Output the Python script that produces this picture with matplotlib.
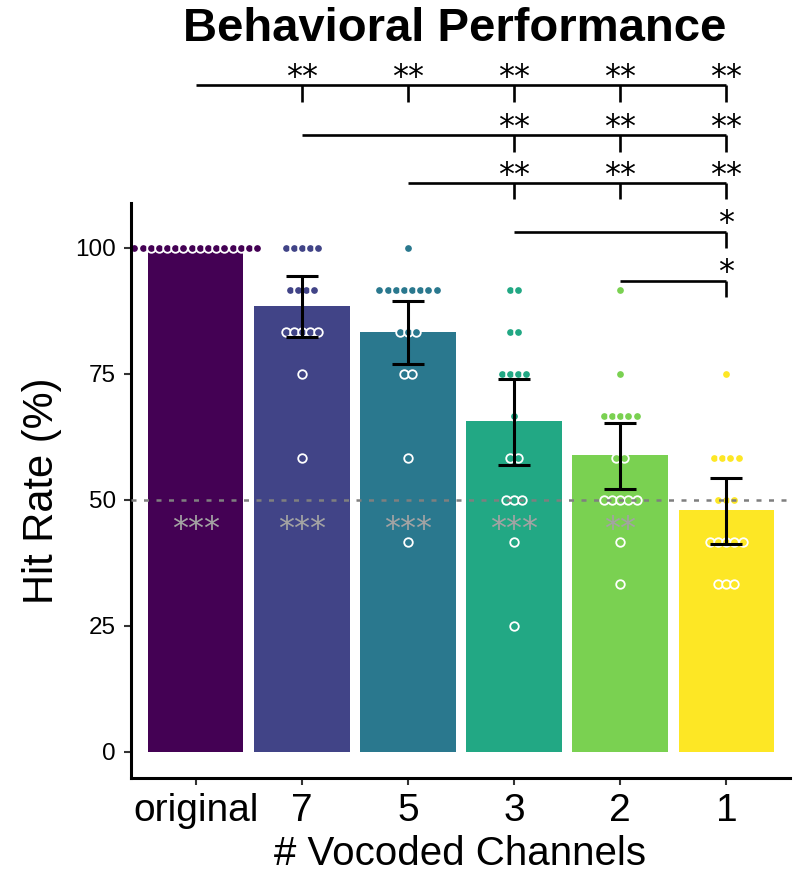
"""Hit rate per vocoding condition, bars + dots + significance brackets."""

import numpy as np
import matplotlib
matplotlib.use('Agg')
import matplotlib.pyplot as plt

plt.rcParams['font.family'] = ['Liberation Sans', 'DejaVu Sans']

CONDITIONS = ['original', '7', '5', '3', '2', '1']
N_TRIALS = 12

# hits out of 12 trials, one entry per listener
HITS_ORIGINAL = [12] * 16
HITS_7 = [12, 12, 12, 12, 12, 11, 11, 11, 11, 10, 10, 10, 10, 10, 9, 7]
HITS_5 = [12, 11, 11, 11, 11, 11, 11, 11, 11, 10, 10, 10, 9, 9, 7, 5]
HITS_3 = [11, 11, 10, 10, 9, 9, 9, 9, 8, 7, 7, 6, 6, 6, 5, 3]
HITS_2 = [11, 9, 8, 8, 8, 8, 8, 7, 7, 6, 6, 6, 6, 6, 5, 4]
HITS_1 = [9, 7, 7, 7, 7, 6, 6, 6, 5, 5, 5, 5, 5, 4, 4, 4]

# bootstrapped 95% CI (none for original)
CI_LOW = [np.nan, 82.3, 76.9, 57.0, 52.2, 41.3]
CI_HIGH = [np.nan, 94.4, 89.5, 73.9, 65.3, 54.4]

# stars vs chance (50 %)
CHANCE_STARS = ['***', '***', '***', '***', '**', '']

# pairwise comparisons: (reference bar, compared bars, label)
BRACKETS = [
    (0, [1, 2, 3, 4, 5], '**'),
    (1, [3, 4, 5], '**'),
    (2, [3, 4, 5], '**'),
    (3, [5], '*'),
    (4, [5], '*'),
]
BRACKET_Y = [132.3, 122.4, 112.9, 103.2, 93.5]

COLORS = [plt.cm.viridis(v) for v in np.linspace(0, 1, len(CONDITIONS))]
DOT_STEP = 0.077
STAR_FONT = ['DejaVu Sans']


def main():
    hits = [HITS_ORIGINAL, HITS_7, HITS_5, HITS_3, HITS_2, HITS_1]
    rates = [np.array(h) / N_TRIALS * 100 for h in hits]
    means = [r.mean() for r in rates]
    x = np.arange(len(CONDITIONS))

    fig = plt.figure(figsize=(8.03, 8.73), dpi=100)
    ax = fig.add_axes([131 / 803, 1 - 778 / 873, 659 / 803, 575 / 873])

    ax.bar(x, means, width=0.9, color=COLORS, zorder=1)

    for i, r in enumerate(rates):
        vals, counts = np.unique(r, return_counts=True)
        for v, n in zip(vals, counts):
            xs = i + (np.arange(n) - (n - 1) / 2) * DOT_STEP
            ax.scatter(xs, [v] * n, s=38, color=COLORS[i], edgecolors='white',
                       linewidths=1.3, zorder=2)

    ax.axhline(50, color='#7f7f7f', lw=1.8, ls=(0, (2, 3)), zorder=3)

    means_arr = np.array(means)
    yerr = [means_arr - np.array(CI_LOW), np.array(CI_HIGH) - means_arr]
    ax.errorbar(x, means_arr, yerr=yerr, fmt='none', ecolor='black',
                elinewidth=2.2, capsize=11.5, capthick=2.2, zorder=4)

    for i, s in enumerate(CHANCE_STARS):
        if s:
            ax.text(i, 42.5, s, ha='center', va='baseline', fontsize=23,
                    family=STAR_FONT, color='#a3a3a3', zorder=5)

    for (start, targets, label), y in zip(BRACKETS, BRACKET_Y):
        ax.plot([start, targets[-1]], [y, y], color='black', lw=1.9,
                clip_on=False, solid_capstyle='butt')
        for t in targets:
            ax.plot([t, t], [y, y - 3.3], color='black', lw=1.9,
                    clip_on=False, solid_capstyle='butt')
            ax.text(t, y - 0.15, label, ha='center', va='baseline',
                    fontsize=23, family=STAR_FONT, color='black',
                    clip_on=False)

    ax.set_xlim(-0.61, 5.6)
    ax.set_ylim(-5.16, 108.9)
    ax.set_xticks(x)
    ax.set_xticklabels(CONDITIONS, fontsize=28)
    ax.set_yticks([0, 25, 50, 75, 100])
    ax.tick_params(axis='y', labelsize=17.5)
    ax.tick_params(length=5, width=1.5, color='#333333', pad=6)
    for side in ['top', 'right']:
        ax.spines[side].set_visible(False)
    for side in ['left', 'bottom']:
        ax.spines[side].set_linewidth(2.2)

    ax.set_xlabel('# Vocoded Channels', fontsize=29, labelpad=4)
    ax.set_ylabel('Hit Rate (%)', fontsize=30, labelpad=9)
    fig.text(455 / 803, 1 - 29 / 873, 'Behavioral Performance', ha='center',
             va='center', fontsize=34, fontweight='bold')

    fig.savefig('out.png', dpi=100)


if __name__ == '__main__':
    main()
